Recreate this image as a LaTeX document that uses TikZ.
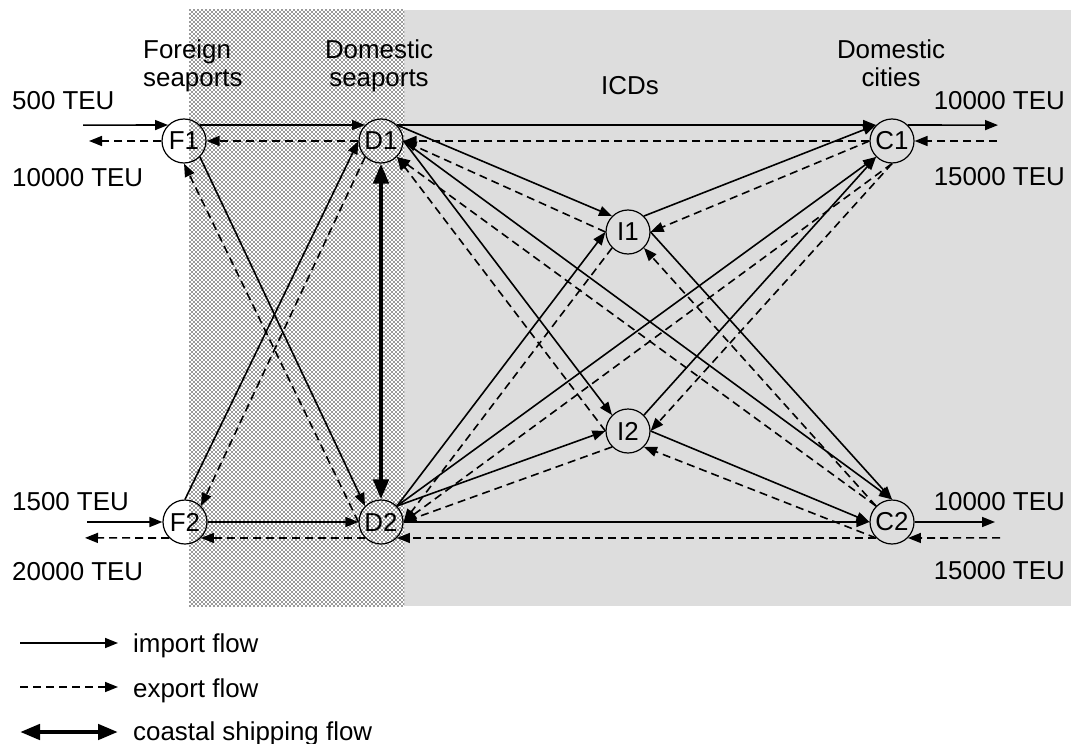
\documentclass[tikz,border=0pt]{standalone}
\usepackage{fontspec}
\setmainfont{Liberation Sans}
\usetikzlibrary{arrows.meta,patterns}
\definecolor{bggray}{RGB}{221,221,221}
\pgfdeclarepatternformonly{seadots}{\pgfqpoint{-1bp}{-1bp}}{\pgfqpoint{3bp}{3bp}}{\pgfqpoint{4bp}{4bp}}{%
  \pgfpathcircle{\pgfqpoint{0bp}{0bp}}{0.9bp}%
  \pgfpathcircle{\pgfqpoint{2bp}{2bp}}{0.9bp}%
  \pgfusepath{fill}}
\begin{document}
\begin{tikzpicture}[x=1bp,y=-1bp,
  hub/.style={circle,draw,line width=1.2bp,minimum size=44bp,inner sep=0pt,font=\fontsize{26}{26}\selectfont},
  lbl/.style={font=\fontsize{26}{28}\selectfont,inner sep=0pt},
  imp/.style={line width=1.6bp,-{Triangle[length=13bp,width=10bp]}},
  exp/.style={line width=1.6bp,dash pattern=on 8bp off 5bp,-{Triangle[length=13bp,width=10bp]}},
  coast/.style={line width=4.5bp,{Triangle[length=20bp,width=15bp]}-{Triangle[length=20bp,width=15bp]}}]
\useasboundingbox (0,0) rectangle (1071,744);
% backgrounds
\fill[bggray] (404,10) rectangle (1071,606);
\fill[white] (189,10) rectangle (404,606);
\fill[pattern=seadots,pattern color=black!80] (189,10) rectangle (404,606);
% headers
\node[lbl,anchor=base west] (h1a) at (143,59) {Foreign};
\node[lbl,anchor=base west] (h1b) at (143,87) {seaports};
\node[lbl,anchor=base] (h2a) at (379,59) {Domestic};
\node[lbl,anchor=base] (h2b) at (379,87) {seaports};
\node[lbl,anchor=base] (h3) at (630,95) {ICDs};
\node[lbl,anchor=base] (h4a) at (891,59) {Domestic};
\node[lbl,anchor=base] (h4b) at (891,87) {cities};
% nodes
\node[hub] (F1) at (184,141) {F1};
\node[hub] (D1) at (381,141) {D1};
\node[hub] (I1) at (628,232) {I1};
\node[hub] (C1) at (892,141) {C1};
\node[hub] (F2) at (185,522) {F2};
\node[hub] (D2) at (381,522) {D2};
\node[hub] (I2) at (628,431) {I2};
\node[hub] (C2) at (892,522) {C2};
% TEU labels
\node[lbl,anchor=base west] (t1) at (12,109) {500 TEU};
\node[lbl,anchor=base west] (t2) at (12,186) {10000 TEU};
\node[lbl,anchor=base west] (t3) at (12,510) {1500 TEU};
\node[lbl,anchor=base west] (t4) at (12,580) {20000 TEU};
\node[lbl,anchor=base east] (t5) at (1065,109) {10000 TEU};
\node[lbl,anchor=base east] (t6) at (1065,185) {15000 TEU};
\node[lbl,anchor=base east] (t7) at (1065,510) {10000 TEU};
\node[lbl,anchor=base east] (t8) at (1065,579) {15000 TEU};
% external ends
\coordinate (inF1) at (83,125.1);
\coordinate (outF1) at (89,141);
\coordinate (outC1) at (998,125.1);
\coordinate (inC1) at (997,141);
\coordinate (inF2) at (87,522);
\coordinate (outF2) at (85,537.9);
\coordinate (outC2) at (995,522);
\coordinate (inC2) at (1000,537.9);
% horizontal flows
\draw[imp] (inF1) -- (F1.135);
\draw[exp] (F1.180) -- (outF1);
\draw[imp] (F1.45) -- (D1.135);
\draw[exp] (D1.180) -- (F1.0);
\draw[imp] (D1.45) -- (C1.135);
\draw[exp] (C1.180) -- (D1.0);
\draw[imp] (C1.45) -- (outC1);
\draw[exp] (inC1) -- (C1.0);
\draw[imp] (inF2) -- (F2.180);
\draw[exp] (F2.-135) -- (outF2);
\draw[imp] (F2.0) -- (D2.180);
\draw[exp] (D2.-135) -- (F2.-45);
\draw[imp] (D2.0) -- (C2.180);
\draw[exp] (C2.-135) -- (D2.-45);
\draw[imp] (C2.0) -- (outC2);
\draw[exp] (inC2) -- (C2.-45);
% left crossings
\draw[imp] (F1.-45) -- (D2.135);
\draw[exp] (D2.180) -- (F1.-90);
\draw[imp] (F2.90) -- (D1.180);
\draw[exp] (D1.-135) -- (F2.45);
\draw[coast] (D1.-90) -- (D2.90);
% right network
\draw[imp] (D1.45) -- (I1.135);
\draw[exp] (I1.180) -- (D1.0);
\draw[imp] (D1.0) -- (I2.135);
\draw[exp] (I2.180) -- (D1.-45);
\draw[imp] (D1.0) -- (C2.90);
\draw[exp] (C2.135) -- (D1.-45);
\draw[imp] (D2.45) -- (I1.180);
\draw[exp] (I1.-135) -- (D2.0);
\draw[imp] (D2.45) -- (I2.180);
\draw[exp] (I2.-135) -- (D2.0);
\draw[imp] (D2.45) -- (C1.-135);
\draw[exp] (C1.-90) -- (D2.0);
\draw[imp] (I1.45) -- (C1.135);
\draw[exp] (C1.180) -- (I1.0);
\draw[imp] (I1.0) -- (C2.90);
\draw[exp] (C2.135) -- (I1.-45);
\draw[imp] (I2.45) -- (C1.-135);
\draw[exp] (C1.-90) -- (I2.0);
\draw[imp] (I2.0) -- (C2.180);
\draw[exp] (C2.-135) -- (I2.-45);
% legend
\coordinate (la1) at (20,643);
\coordinate (lb1) at (118,643);
\coordinate (la2) at (20,687);
\coordinate (lb2) at (118,687);
\coordinate (la3) at (20,732);
\coordinate (lb3) at (118,732);
\draw[imp] (la1) -- (lb1);
\draw[exp] (la2) -- (lb2);
\draw[coast] (la3) -- (lb3);
\node[lbl,anchor=base west] (l1) at (133,652) {import flow};
\node[lbl,anchor=base west] (l2) at (133,697) {export flow};
\node[lbl,anchor=base west] (l3) at (133,740) {coastal shipping flow};
\end{tikzpicture}
\end{document}
